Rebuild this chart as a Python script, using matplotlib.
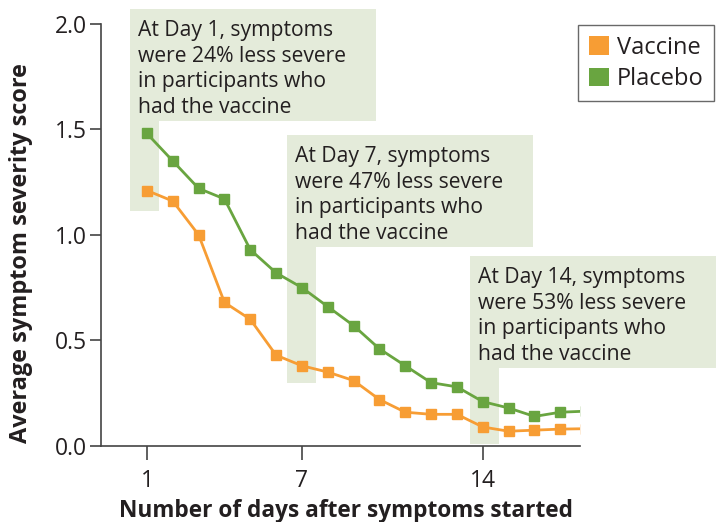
import matplotlib
matplotlib.use("Agg")
import matplotlib.pyplot as plt
from matplotlib.patches import Rectangle, Patch

plt.rcParams['font.family'] = ['Open Sans', 'DejaVu Sans']

# data
days = [1, 2, 3, 4, 5, 6, 7, 8, 9, 10, 11, 12, 13, 14, 15, 16, 17, 18]
vaccine = [1.21, 1.16, 1.00, 0.68, 0.60, 0.43, 0.38, 0.35, 0.31, 0.22, 0.16, 0.15, 0.15,
           0.09, 0.07, 0.075, 0.08, 0.082]
placebo = [1.48, 1.35, 1.22, 1.17, 0.93, 0.82, 0.75, 0.66, 0.57, 0.46, 0.38, 0.30, 0.28,
           0.21, 0.18, 0.14, 0.16, 0.165]
xtick_days = [1, 7, 14]
ytick_vals = [0.0, 0.5, 1.0, 1.5, 2.0]

note_days = [1, 7, 14]
note_pct = [24, 47, 53]

orange = "#f79d34"
green = "#69a540"
boxfill = "#e4ebda"
ink = "#231f20"

fig = plt.figure(figsize=(7.21, 5.22), dpi=100)
ax = fig.add_axes([0.140, 0.1456, 0.664, 0.8090])

# highlight boxes: text box + strip down to the data point
box_left = [0.34, 6.43, 13.50]
box_top = [2.068, 1.472, 0.899]
box_bot = [1.54, 0.943, 0.37]
strip_bot = [1.113, 0.30, 0.008]
box_w = 9.52
strip_w = 1.13
for i, d in enumerate(note_days):
    ax.add_patch(Rectangle((box_left[i], box_bot[i]), box_w, box_top[i] - box_bot[i],
                           facecolor=boxfill, edgecolor="none", clip_on=False, zorder=0))
    ax.add_patch(Rectangle((box_left[i], strip_bot[i]), strip_w, box_bot[i] - strip_bot[i],
                           facecolor=boxfill, edgecolor="none", clip_on=False, zorder=0))
    txt = ("At Day %d, symptoms\nwere %d%% less severe\nin participants who\nhad the vaccine"
           % (d, note_pct[i]))
    ax.text(box_left[i] + 0.31, box_top[i] - 0.05, txt, ha="left", va="top",
            fontsize=15.2, color=ink, linespacing=1.3, zorder=1, clip_on=False)

ax.plot(days, vaccine, color=orange, lw=2.0, marker="s", ms=7.5, zorder=3)
ax.plot(days, placebo, color=green, lw=2.0, marker="s", ms=7.5, zorder=3)

ax.set_xlim(-0.78, 17.75)
ax.set_ylim(0, 2.0)
ax.set_xticks(xtick_days)
ax.set_yticks(ytick_vals)
ax.set_yticklabels(["%.1f" % v for v in ytick_vals])
ax.tick_params(axis="x", length=10, width=1.2, colors="#444444", labelcolor=ink,
               labelsize=16.5, pad=6.5)
ax.tick_params(axis="y", length=8, width=1.2, colors="#444444", labelcolor=ink,
               labelsize=16.5, pad=2)
for s in ["top", "right"]:
    ax.spines[s].set_visible(False)
for s in ["left", "bottom"]:
    ax.spines[s].set_color("#444444")
    ax.spines[s].set_linewidth(1.2)

ax.set_xlabel("Number of days after symptoms started", fontsize=16.3, fontweight="bold",
              color=ink)
ax.set_ylabel("Average symptom severity score", fontsize=16.9, fontweight="bold",
              color=ink)
ax.xaxis.set_label_coords(0.5125, -0.126)
ax.yaxis.set_label_coords(-0.142, 0.457)

handles = [Patch(facecolor=orange, edgecolor="none"), Patch(facecolor=green, edgecolor="none")]
leg = fig.legend(handles=handles, labels=["Vaccine", "Placebo"], loc="upper left",
                 bbox_to_anchor=(0.8017, 0.952), frameon=True, fancybox=False,
                 fontsize=17, handlelength=0.85, handleheight=0.8, handletextpad=0.35,
                 borderpad=0.45, labelspacing=0.3, borderaxespad=0)
leg.get_frame().set_edgecolor("#444444")
leg.get_frame().set_linewidth(1.0)
for t in leg.get_texts():
    t.set_color(ink)

fig.savefig("out.png", dpi=100)
